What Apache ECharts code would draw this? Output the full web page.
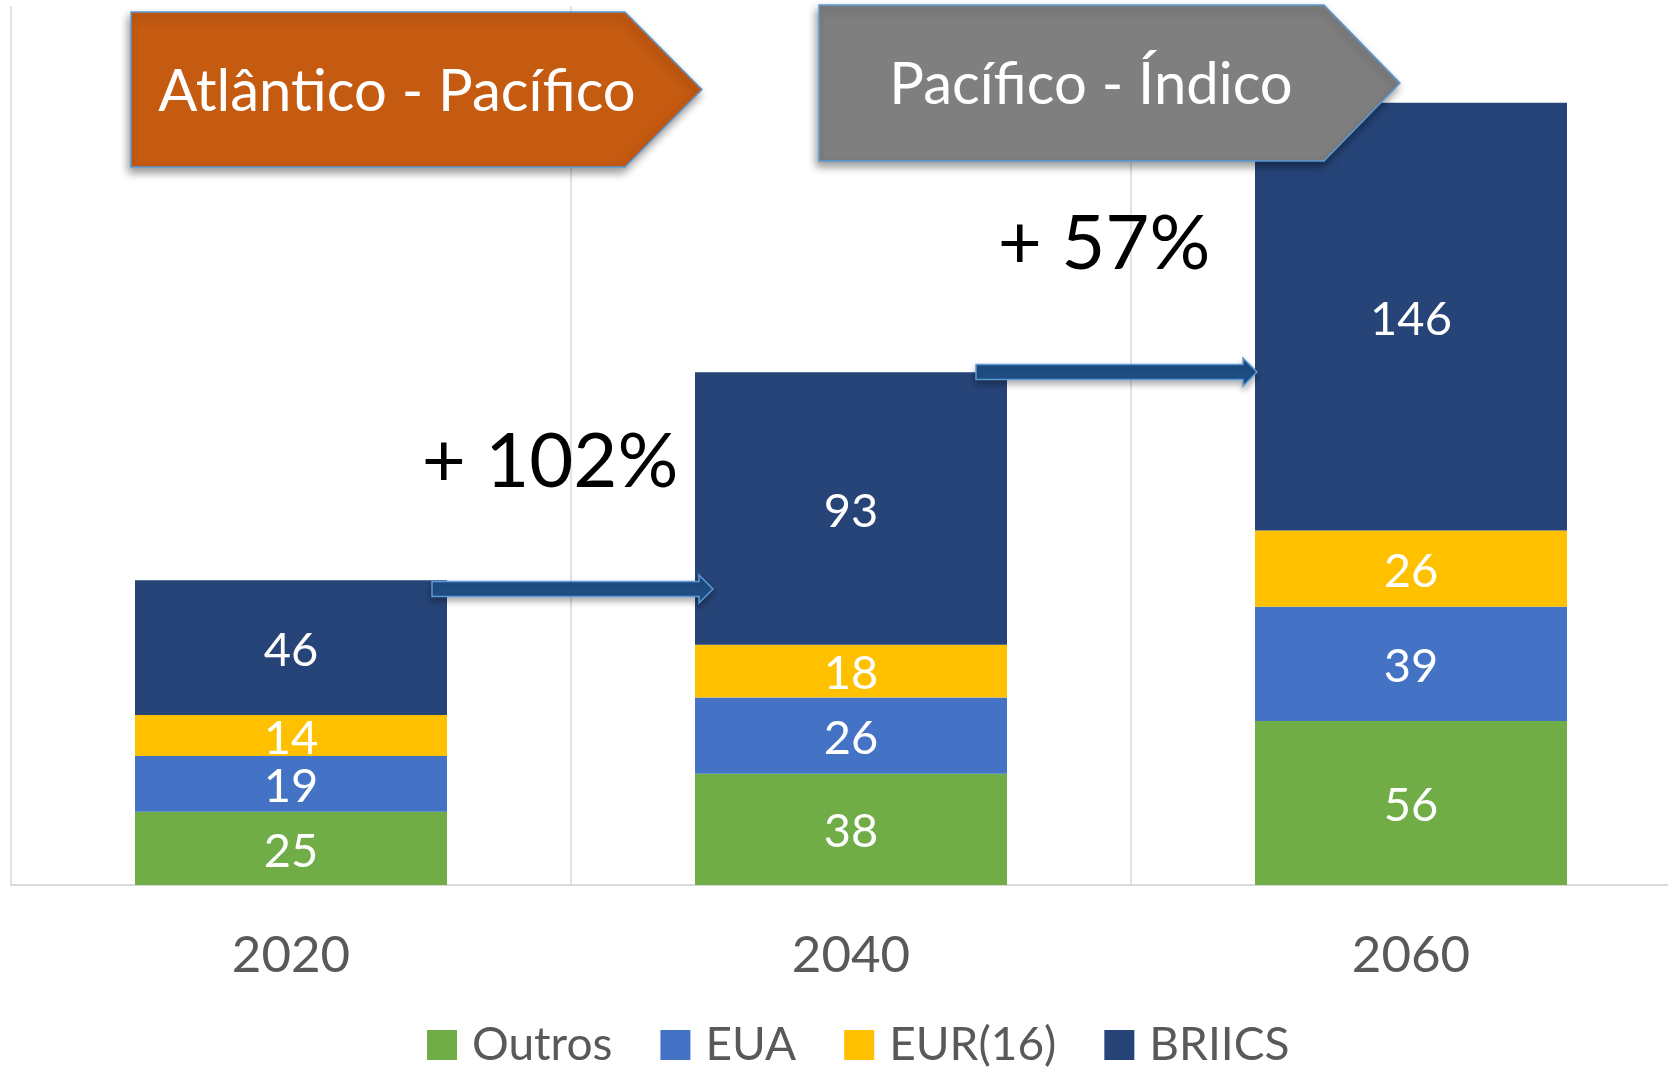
<!DOCTYPE html>
<html><head><meta charset="utf-8">
<script src="https://cdn.jsdelivr.net/npm/echarts@6/dist/echarts.min.js"></script>
<style>html,body{margin:0;padding:0;background:#fff}#c{width:1668px;height:1068px}</style>
</head><body><div id="c"></div>
<script>
const categories = ['2020', '2040', '2060'];
const outros = [25, 38, 56];
const eua = [19, 26, 39];
const eur16 = [14, 18, 26];
const briics = [46, 93, 146];
const seriesNames = ['Outros', 'EUA', 'EUR(16)', 'BRIICS'];
const seriesColors = ['#70AD47', '#4472C4', '#FFC000', '#264478'];
const growthLabels = ['+ 102%', '+ 57%'];
const bandLabels = ['Atlântico - Pacífico', 'Pacífico - Índico'];

const FONT = 'Lato';
const chart = echarts.init(document.getElementById('c'));
const values = [outros, eua, eur16, briics];

function mkSeries(i) {
  return {
    name: seriesNames[i], type: 'bar', stack: 'total', data: values[i],
    barWidth: 312,
    itemStyle: { color: seriesColors[i] },
    label: { show: true, position: 'inside', offset: [0, 3], color: '#fff', fontSize: 47, fontFamily: FONT }
  };
}

function pentagon(x0, x1, xt, y0, y1, fill) {
  return {
    type: 'polygon', z: 50,
    shape: { points: [[x0, y0], [x1, y0], [xt, (y0 + y1) / 2], [x1, y1], [x0, y1]] },
    style: { fill: fill, stroke: '#5B9BD5', lineWidth: 1.5,
      shadowBlur: 8, shadowOffsetX: -2, shadowOffsetY: 5, shadowColor: 'rgba(0,0,0,0.4)' }
  };
}
function arrow(xs, xh, xt, yc, sh, hh) {
  return {
    type: 'polygon', z: 50,
    shape: { points: [[xs, yc - sh], [xh, yc - sh], [xh, yc - hh], [xt, yc], [xh, yc + hh], [xh, yc + sh], [xs, yc + sh]] },
    style: { fill: '#1F4E86', stroke: '#5B9BD5', lineWidth: 1.5,
      shadowBlur: 6, shadowOffsetY: 4, shadowColor: 'rgba(0,0,0,0.3)' }
  };
}
function txt(x, y, s, size, color) {
  return { type: 'text', z: 60, x: x, y: y,
    style: { text: s, fontSize: size, fontFamily: FONT, fill: color, align: 'center', verticalAlign: 'middle' } };
}

chart.setOption({
  animation: false,
  backgroundColor: '#fff',
  grid: { left: 11, right: -23, top: 6, bottom: 183, containLabel: false, outerBoundsMode: 'none' },
  legend: {
    data: seriesNames, left: 422, top: 1017, itemWidth: 30, itemHeight: 30, itemGap: 48, icon: 'rect',
    textStyle: { color: '#595959', fontSize: 46, fontFamily: FONT, padding: [0, 0, 0, 10] }
  },
  xAxis: {
    type: 'category', data: categories,
    axisLine: { lineStyle: { color: '#D9D9D9', width: 2 } },
    axisTick: { show: false },
    axisLabel: { color: '#595959', fontSize: 51, fontFamily: FONT, margin: 45 },
    splitLine: { show: true, lineStyle: { color: '#D9D9D9', width: 1.5 } }
  },
  yAxis: { type: 'value', min: 0, max: 300, show: false, splitLine: { show: false } },
  series: [0, 1, 2, 3].map(mkSeries),
  graphic: [
    arrow(432, 699, 713, 589, 7.5, 14),
    arrow(976, 1243, 1257, 372, 7.5, 14),
    pentagon(131, 625, 702, 12, 167, '#C55A11'),
    txt(397, 92, bandLabels[0], 58, '#fff'),
    pentagon(819, 1324, 1400, 5, 161, '#7F7F7F'),
    txt(1091, 85, bandLabels[1], 58, '#fff'),
    txt(550, 462, growthLabels[0], 76, '#000'),
    txt(1104, 244, growthLabels[1], 76, '#000')
  ]
});
</script></body></html>
